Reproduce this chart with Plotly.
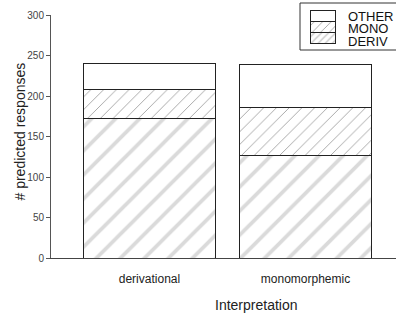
import plotly.graph_objects as go

categories = ["derivational", "monomorphemic"]
deriv = [172, 127]
mono = [36, 59]
other = [32, 53]
y_ticks = [0, 50, 100, 150, 200, 250, 300]
legend_labels = ["DERIV", "MONO", "OTHER"]

FONT = "Liberation Sans, Arial, sans-serif"
W, H = 396, 317
T, B = 0, 59            # margins; main y domain shrunk so the legend fits inside the paper
PH = H - T - B           # paper height (258)
PLOT_TOP = 15            # pixel y of the 300 tick

def py(ypix):
    """pixel y -> paper fraction"""
    return (H - B - ypix) / PH

def px(xpix):
    return (xpix - 51) / (W - 51)

deriv_marker = dict(color="white", line=dict(color="#222", width=1),
                    pattern=dict(shape="/", fgcolor="#b5b5b5", bgcolor="white", size=17, solidity=0.22))
mono_marker = dict(color="white", line=dict(color="#222", width=1),
                   pattern=dict(shape="/", fgcolor="#444444", bgcolor="white", size=9, solidity=0.1))
other_marker = dict(color="white", line=dict(color="#222", width=1))
legend_deriv = dict(color="white", line=dict(color="#222", width=1),
                    pattern=dict(shape="/", fgcolor="#a0a0a0", bgcolor="white", size=5, solidity=0.3))
legend_mono = dict(color="white", line=dict(color="#222", width=1),
                   pattern=dict(shape="/", fgcolor="#444444", bgcolor="white", size=6, solidity=0.15))

fig = go.Figure()
fig.add_trace(go.Bar(x=categories, y=deriv, name="DERIV", marker=deriv_marker, showlegend=False))
fig.add_trace(go.Bar(x=categories, y=mono, name="MONO", marker=mono_marker, showlegend=False))
fig.add_trace(go.Bar(x=categories, y=other, name="OTHER", marker=other_marker, showlegend=False))

# legend patches drawn as small bars in their own axes
for i, (lab, mk) in enumerate(zip(legend_labels, [legend_deriv, legend_mono, other_marker])):
    fig.add_trace(go.Bar(x=[1], y=[i], orientation="h", width=[1], name=lab, marker=mk,
                         xaxis="x2", yaxis="y2", showlegend=False, hoverinfo="skip"))

annotations = [
    dict(text="Interpretation", xref="paper", yref="paper", x=px(256), y=py(305),
         xanchor="center", yanchor="middle", showarrow=False, font=dict(size=14, color="#222")),
    dict(text="# predicted responses", xref="paper", yref="paper", x=px(19), y=py(131.5),
         xanchor="center", yanchor="middle", showarrow=False, textangle=-90,
         font=dict(size=14, color="#222")),
]
for lab, yc in zip(legend_labels, [41.5, 28.5, 16]):
    annotations.append(dict(text=lab, xref="paper", yref="paper", x=px(346), y=py(yc),
                            xanchor="left", yanchor="middle", showarrow=False,
                            font=dict(size=13, color="#111")))

fig.update_layout(
    barmode="stack", bargap=0.16,
    width=W, height=H,
    margin=dict(l=51, r=0, t=T, b=B, autoexpand=False),
    paper_bgcolor="white", plot_bgcolor="white",
    font=dict(family=FONT, color="#222"),
    showlegend=False,
    xaxis=dict(range=[-0.631, 1.58], showline=True, linecolor="#444", linewidth=1,
               ticks="", ticklabelstandoff=10, tickfont=dict(size=12, color="#222"),
               showgrid=False, fixedrange=True),
    yaxis=dict(domain=[0, py(PLOT_TOP)], range=[0, 300], tickvals=y_ticks, showline=True,
               linecolor="#555", linewidth=1,
               ticks="outside", ticklen=4, tickcolor="#555", tickfont=dict(size=10, color="#444"),
               showgrid=False, zeroline=False, fixedrange=True),
    xaxis2=dict(domain=[px(309), px(337)], range=[-0.08, 1.08], visible=False, anchor="y2", fixedrange=True),
    yaxis2=dict(domain=[py(44), py(10)], range=[-0.56, 2.56], visible=False, anchor="x2", fixedrange=True),
    shapes=[dict(type="rect", xref="paper", yref="paper", x0=px(300), x1=px(400),
                 y0=py(50), y1=py(3), line=dict(color="#333", width=1), fillcolor="rgba(0,0,0,0)",
                 layer="below")],
    annotations=annotations,
)

fig.write_html("out.html", config={"displayModeBar": False},
               post_script="document.body.style.margin='0';")
